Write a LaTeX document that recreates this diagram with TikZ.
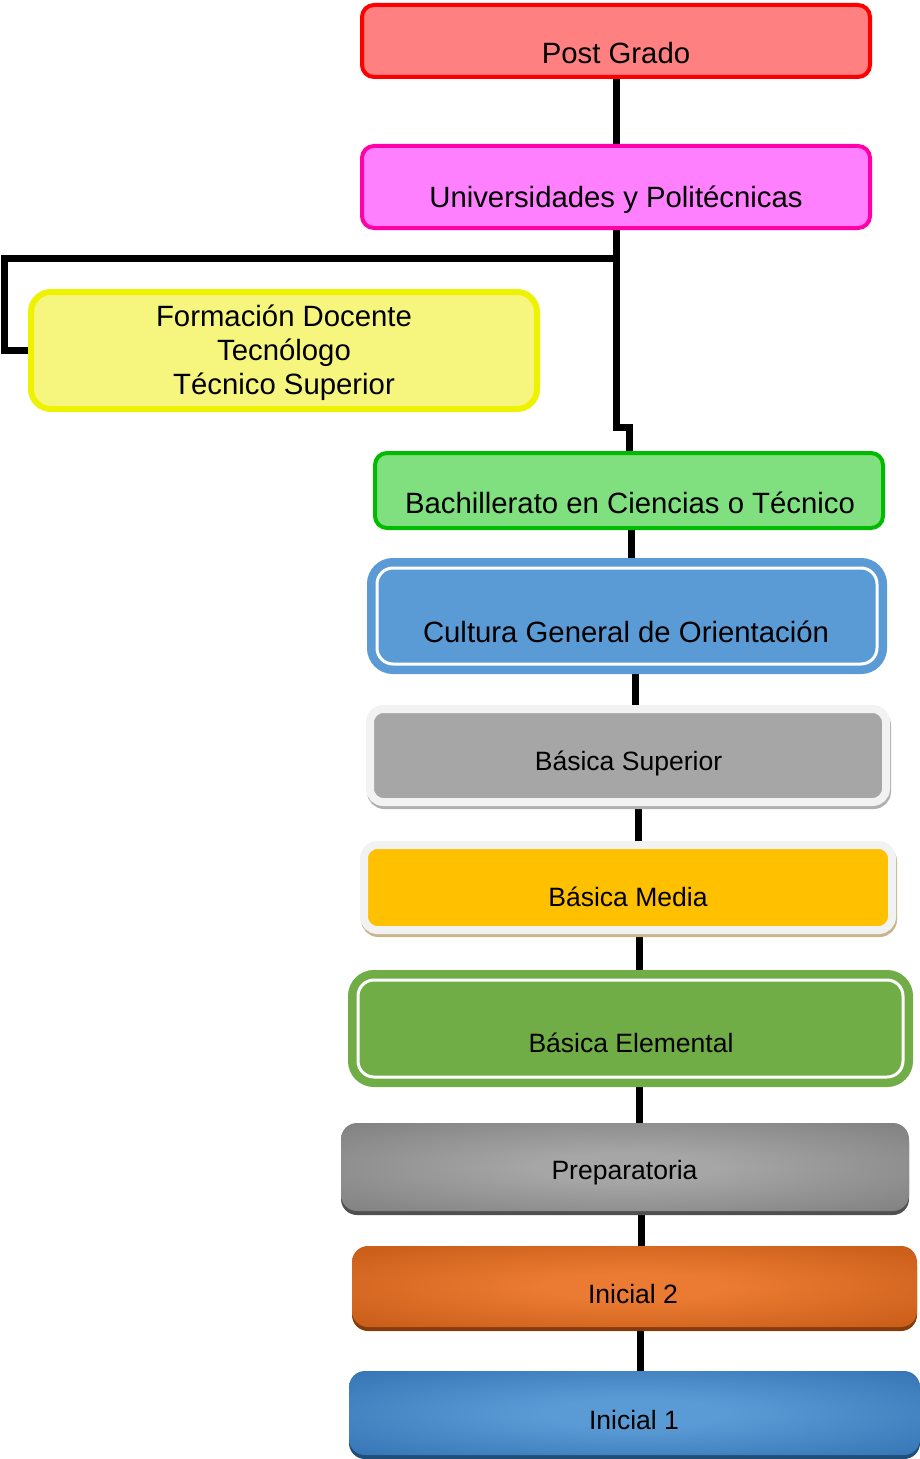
\documentclass[tikz,border=0pt]{standalone}
\usepackage{fontspec}
\setmainfont{Liberation Sans}
\usetikzlibrary{calc}
\definecolor{pgfill}{HTML}{FF8080}
\definecolor{pgdraw}{HTML}{FF0000}
\definecolor{ugfill}{HTML}{FF80FF}
\definecolor{ugdraw}{HTML}{FF00A8}
\definecolor{fdfill}{HTML}{F6F67E}
\definecolor{fddraw}{HTML}{EEF200}
\definecolor{btfill}{HTML}{80E080}
\definecolor{btdraw}{HTML}{00BB00}
\definecolor{cgblue}{HTML}{5B9BD5}
\definecolor{begreen}{HTML}{70AD47}
\definecolor{rimgray}{HTML}{F2F2F2}
\definecolor{bsgray}{HTML}{A6A6A6}
\definecolor{bsshadow}{HTML}{B0B0B0}
\definecolor{bmfill}{HTML}{FFC000}
\definecolor{bmshadow}{HTML}{C9B68A}
\definecolor{prc}{HTML}{A6A6A6}
\definecolor{pre}{HTML}{787878}
\definecolor{prshadow}{HTML}{505050}
\definecolor{iic}{HTML}{EB7B32}
\definecolor{iie}{HTML}{BF5512}
\definecolor{iishadow}{HTML}{843C0C}
\definecolor{ic}{HTML}{5B9BD5}
\definecolor{ie}{HTML}{2C6CAE}
\definecolor{ishadow}{HTML}{1F4E79}
\pgfdeclareradialshading{prshade}{\pgfpoint{0bp}{0bp}}{color(0bp)=(prc); color(8bp)=(prc); color(42bp)=(pre); color(50bp)=(pre)}
\pgfdeclareradialshading{iishade}{\pgfpoint{0bp}{0bp}}{color(0bp)=(iic); color(8bp)=(iic); color(42bp)=(iie); color(50bp)=(iie)}
\pgfdeclareradialshading{ishade}{\pgfpoint{0bp}{0bp}}{color(0bp)=(ic); color(8bp)=(ic); color(42bp)=(ie); color(50bp)=(ie)}
\pgfdeclarelayer{background}
\pgfsetlayers{background,main}
\begin{document}
\begin{tikzpicture}[x=0.75pt,y=-0.75pt,
  conn/.style={line width=5.25pt, black},
  bigtxt/.style={font=\fontsize{22pt}{25.5pt}\selectfont, inner sep=0pt},
  smalltxt/.style={font=\fontsize{19.9pt}{24pt}\selectfont, inner sep=0pt},
  plainbox/.style={rounded corners=9pt, inner sep=0pt, outer sep=0pt},
  ringbox/.style={plainbox, rounded corners=12pt, fill=#1, draw=white, line width=2.25pt,
    preaction={draw=#1, line width=15pt}},
  rimbox/.style 2 args={plainbox, rounded corners=10pt, fill=#1, draw=rimgray, line width=6pt,
    preaction={draw=#2, fill=#2, line width=6pt, transform canvas={xshift=0.75pt, yshift=-2.25pt}}},
  gradbox/.style 2 args={plainbox, rounded corners=12pt, shade, shading=#1,
    preaction={fill=#2, transform canvas={yshift=-3pt}}},
]
\useasboundingbox (0,0) rectangle (920,1459);

% boxes
\node[plainbox, fill=pgfill, draw=pgdraw, line width=3pt, minimum width=381pt, minimum height=54pt] (pg) at (616,41) {};
\node[plainbox, fill=ugfill, draw=ugdraw, line width=3pt, minimum width=381pt, minimum height=61.5pt] (ug) at (616,187) {};
\node[plainbox, rounded corners=15pt, fill=fdfill, draw=fddraw, line width=4.5pt, minimum width=379.5pt, minimum height=87.75pt] (fd) at (284,350.5) {};
\node[plainbox, fill=btfill, draw=btdraw, line width=3pt, minimum width=381pt, minimum height=56.25pt] (bt) at (629,490.5) {};
\node[ringbox=cgblue, minimum width=375pt, minimum height=72pt] (cg) at (627,616) {};
\node[rimbox={bsgray}{bsshadow}, minimum width=387pt, minimum height=69.75pt] (bs) at (628,755.5) {};
\node[rimbox={bmfill}{bmshadow}, minimum width=396pt, minimum height=63.75pt] (bm) at (628,887.5) {};
\node[ringbox=begreen, minimum width=408.75pt, minimum height=72.75pt] (be) at (630.5,1028.5) {};
\node[gradbox={prshade}{prshadow}, minimum width=426pt, minimum height=66pt] (pr) at (625,1167) {};
\node[gradbox={iishade}{iishadow}, minimum width=423.75pt, minimum height=60.75pt] (ii) at (634.5,1286.5) {};
\node[gradbox={ishade}{ishadow}, minimum width=428.25pt, minimum height=63pt] (i) at (634.5,1413) {};

% texts
\node[bigtxt, anchor=base] (pgt) at (616,64) {Post Grado};
\node[bigtxt, anchor=base] (ugt) at (616,207) {Universidades y Politécnicas};
\node[bigtxt, align=center, anchor=center] (fdt) at (284,352.5) {Formación Docente\\Tecnólogo\\Técnico Superior};
\node[bigtxt, anchor=base] (btt) at (630,513) {Bachillerato en Ciencias o Técnico};
\node[bigtxt, anchor=base] (cgt) at (626,642) {Cultura General de Orientación};
\node[smalltxt, anchor=base] (bst) at (628.5,770) {Básica Superior};
\node[smalltxt, anchor=base] (bmt) at (628,906.5) {Básica Media};
\node[smalltxt, anchor=base] (bet) at (631,1052) {Básica Elemental};
\node[smalltxt, anchor=base] (prt) at (624.5,1179.5) {Preparatoria};
\node[smalltxt, anchor=base] (iit) at (633,1303) {Inicial 2};
\node[smalltxt, anchor=base] (it) at (634,1429) {Inicial 1};

% connectors
\coordinate (j1) at (616,258);
\coordinate (j2) at (4,258);
\coordinate (j3) at (616,427);
\coordinate (a1) at ($(bt.south)+(2,0)$);
\coordinate (a2) at ($(cg.south)+(8,0)$);
\coordinate (a3) at ($(bs.south)+(10,0)$);
\coordinate (a4) at ($(bm.south)+(11,0)$);
\coordinate (a5) at ($(be.south)+(8.5,0)$);
\coordinate (a6) at ($(pr.south)+(16.5,0)$);
\coordinate (a7) at ($(ii.south)+(5.5,0)$);
\begin{pgfonlayer}{background}
\draw[conn] (pg.south) -- (ug.north);
\draw[conn] (ug.south) -- (j1) -- (j2) |- (fd.west);
\draw[conn] (j1) -- (j3) -| (bt.north);
\draw[conn] (a1) -- (a1 |- cg.north);
\draw[conn] (a2) -- (a2 |- bs.north);
\draw[conn] (a3) -- (a3 |- bm.north);
\draw[conn] (a4) -- (a4 |- be.north);
\draw[conn] (a5) -- (a5 |- pr.north);
\draw[conn] (a6) -- (a6 |- ii.north);
\draw[conn] (a7) -- (a7 |- i.north);
\end{pgfonlayer}
\end{tikzpicture}
\end{document}
